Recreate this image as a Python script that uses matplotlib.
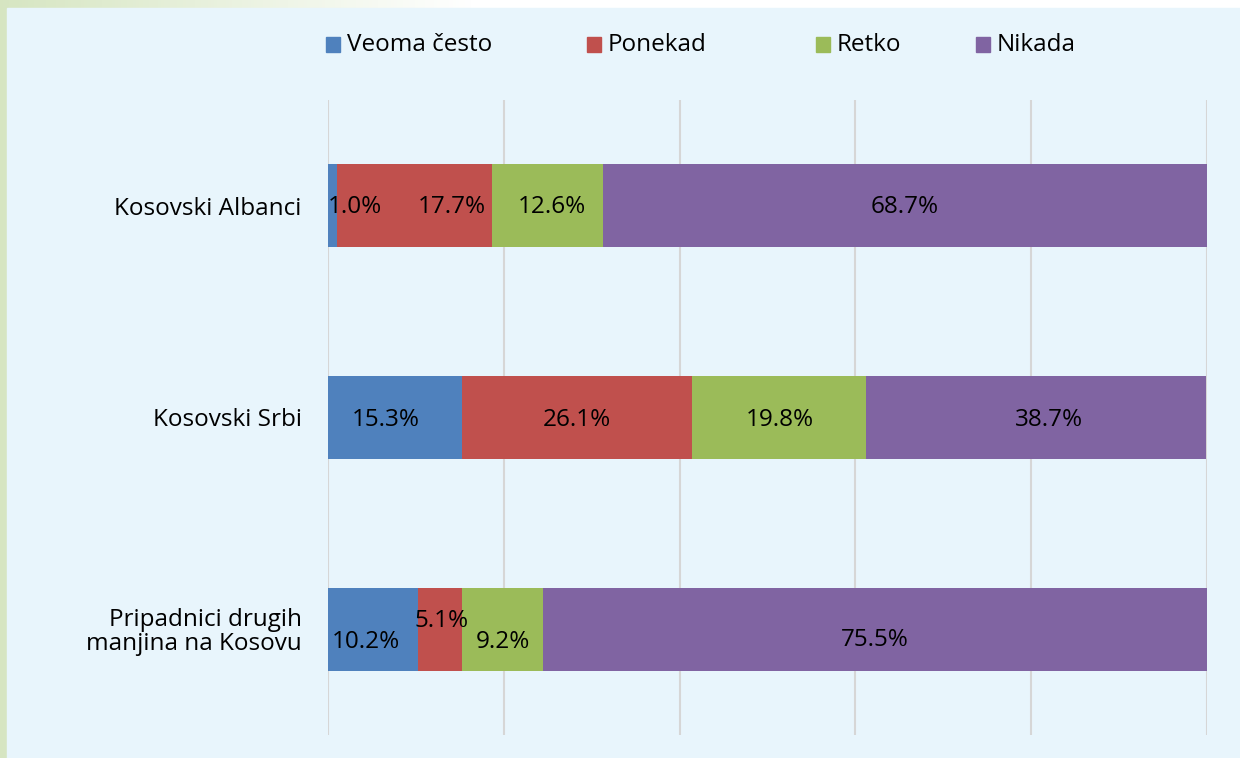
import numpy as np
import matplotlib
matplotlib.use("Agg")
import matplotlib.pyplot as plt
from matplotlib.patches import Rectangle

# podaci
groups = ["Kosovski Albanci", "Kosovski Srbi", "Pripadnici drugih\nmanjina na Kosovu"]
answers = ["Veoma često", "Ponekad", "Retko", "Nikada"]
veoma_cesto = [1.0, 15.3, 10.2]
ponekad = [17.7, 26.1, 5.1]
retko = [12.6, 19.8, 9.2]
nikada = [68.7, 38.7, 75.5]

colors = ["#4F81BD", "#C0504D", "#9BBB59", "#8064A2"]
# Excel je pomerio neke oznake da se ne preklapaju (dx, dy u pt)
label_shift = {(0, 0): (16, 0), (0, 1): (27, 0), (0, 2): (3, 0),
               (1, 0): (-7, -1), (1, 1): (0, -1), (1, 2): (1, -1), (1, 3): (9.5, -1),
               (2, 0): (-5, -8), (2, 1): (1, 7), (2, 2): (0, -8), (2, 3): (0, -6.5)}

W, H = 1240, 758
plt.rcParams['font.family'] = ['Open Sans', 'DejaVu Sans']

fig = plt.figure(figsize=(W / 100, H / 100), dpi=100)
fig.patch.set_facecolor("white")

def fx(x):
    return x / W

def fy(y):
    return 1 - y / H

# pozadina: zelenkasti prelaz levo gore + svetloplavi panel
bg = fig.add_axes([0, 0, 1, 1], zorder=-10)
grad = np.linspace(0, 1, 400)
rgb0 = np.array([0.84, 0.90, 0.76])
rgb1 = np.array([1.0, 1.0, 1.0])
t = np.clip(grad / 0.38, 0, 1)[None, :, None]
img = rgb0 * (1 - t) + rgb1 * t
bg.imshow(np.repeat(img, 2, axis=0), aspect="auto", extent=[0, 1, 0, 1])
bg.add_patch(Rectangle((fx(7), 0), 1 - fx(7), fy(8), color="#E8F5FC", zorder=2))
bg.set_xlim(0, 1)
bg.set_ylim(0, 1)
bg.axis("off")

ax = fig.add_axes([fx(328), fy(735), fx(1207) - fx(328), fy(100) - fy(735)])
ax.set_facecolor("none")

data = np.array([veoma_cesto, ponekad, retko, nikada])
y = np.arange(len(groups))
left = np.zeros(len(groups))
for j in range(len(answers)):
    ax.barh(y, data[j], left=left, height=0.392, color=colors[j], zorder=3)
    for i in range(len(groups)):
        dx, dy = label_shift.get((i, j), (0, 0))
        ax.annotate(f"{data[j][i]:.1f}%", (left[i] + data[j][i] / 2, y[i]),
                    xytext=(dx, dy - 1), textcoords="offset points",
                    ha="center", va="center", fontsize=17.5, color="black", zorder=5)
    left = left + data[j]

ax.set_xlim(0, 100)
ax.set_ylim(2.5, -0.5)
ax.set_xticks(np.arange(0, 101, 20))
ax.xaxis.grid(True, color="#D6D6D6", linewidth=1.5, zorder=0)
ax.tick_params(axis="x", length=0, labelbottom=False)
ax.tick_params(axis="y", length=0, pad=19)
ax.set_yticks(y)
ax.set_yticklabels(groups, fontsize=17.5, ha="right", multialignment="right",
                   linespacing=1.0)
for s in ax.spines.values():
    s.set_visible(False)

# legenda
leg_x = [326, 587, 816, 976]
for x0, name, c in zip(leg_x, answers, colors):
    fig.add_artist(Rectangle((fx(x0), fy(52)), fx(14), fy(37) - fy(52),
                             transform=fig.transFigure, color=c))
    fig.text(fx(x0 + 21), fy(45), name, ha="left", va="center", fontsize=17.5,
             family=['Liberation Sans Narrow', 'Open Sans', 'DejaVu Sans'])

fig.savefig("out.png", dpi=100, facecolor=fig.get_facecolor())
